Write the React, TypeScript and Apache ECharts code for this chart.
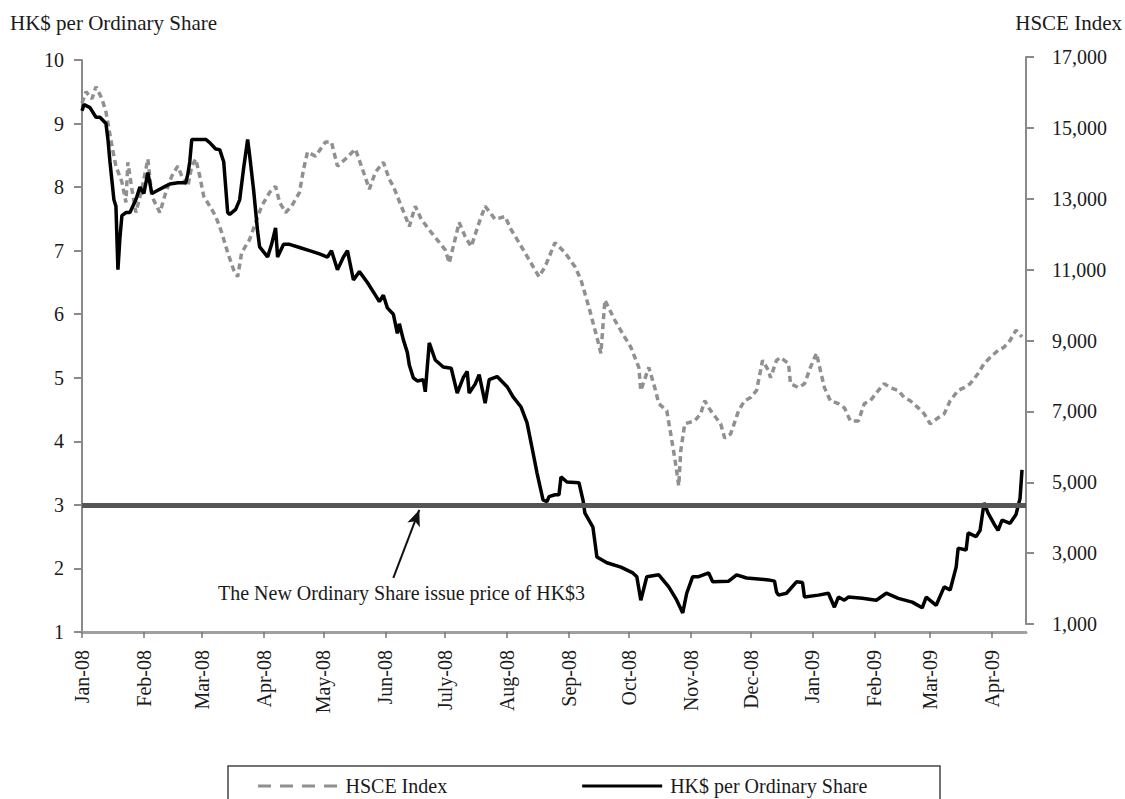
import React, { useEffect, useRef } from "react";
import * as echarts from "echarts";

// Month tick labels and their day offsets (days since 1 Jan 2008)
const monthLabels = [
  "Jan-08", "Feb-08", "Mar-08", "Apr-08", "May-08", "Jun-08", "July-08", "Aug-08",
  "Sep-08", "Oct-08", "Nov-08", "Dec-08", "Jan-09", "Feb-09", "Mar-09", "Apr-09",
];
const monthStartDays = [0, 31, 60, 91, 121, 152, 182, 213, 244, 274, 305, 335, 366, 397, 425, 456];
const totalDays = 474;

// HK$ per Ordinary Share: [day since 1 Jan 2008, price]
const sharePrice: [number, number][] = [
  [0, 9.2], [1, 9.3], [4, 9.25], [7, 9.1], [9, 9.1], [12, 9.0], [13, 8.75], [14, 8.4], [15, 8.1],
  [16, 7.8], [17, 7.7], [18, 6.7], [19, 7.2], [20, 7.55], [22, 7.6], [24, 7.6], [27, 7.8], [29, 8.0],
  [31, 7.9], [33, 8.23], [35, 7.9], [38, 7.95], [41, 8.0], [44, 8.05], [48, 8.07], [52, 8.07],
  [53, 8.2], [54, 8.4], [55, 8.75], [62, 8.75], [64, 8.7], [67, 8.6], [69, 8.59], [71, 8.4],
  [73, 7.6], [74, 7.57], [77, 7.65], [79, 7.8], [81, 8.3], [83, 8.75], [84, 8.5], [86, 7.95],
  [88, 7.3], [89, 7.06], [91, 6.98], [93, 6.9], [95, 7.1], [97, 7.36], [98, 6.9], [101, 7.1],
  [104, 7.1], [109, 7.05], [114, 7.0], [119, 6.95], [123, 6.9], [125, 7.0], [128, 6.7], [131, 6.9],
  [133, 7.0], [136, 6.54], [139, 6.67], [143, 6.5], [147, 6.3], [149, 6.2], [151, 6.3], [153, 6.1],
  [156, 6.0], [158, 5.7], [159, 5.85], [161, 5.6], [163, 5.4], [164, 5.2], [166, 5.0], [168, 4.95],
  [171, 4.97], [172, 4.78], [174, 5.55], [177, 5.28], [181, 5.17], [185, 5.15], [188, 4.76],
  [191, 5.0], [193, 5.1], [194, 4.76], [197, 4.9], [199, 5.05], [202, 4.6], [204, 4.97], [208, 5.02],
  [213, 4.86], [216, 4.7], [220, 4.54], [223, 4.29], [226, 3.82], [228, 3.5], [231, 3.08],
  [233, 3.05], [234, 3.13], [237, 3.16], [239, 3.16], [240, 3.44], [243, 3.36], [249, 3.35],
  [251, 3.08], [252, 2.87], [256, 2.65], [258, 2.18], [263, 2.09], [270, 2.02], [276, 1.93],
  [278, 1.87], [280, 1.5], [283, 1.87], [289, 1.9], [294, 1.71], [298, 1.5], [301, 1.3], [303, 1.61],
  [306, 1.87], [309, 1.87], [314, 1.93], [316, 1.79], [324, 1.8], [328, 1.9], [333, 1.85],
  [344, 1.82], [347, 1.8], [348, 1.63], [349, 1.58], [353, 1.61], [358, 1.79], [361, 1.78],
  [362, 1.55], [369, 1.58], [374, 1.61], [377, 1.39], [379, 1.55], [382, 1.5], [384, 1.55],
  [391, 1.53], [398, 1.5], [403, 1.61], [409, 1.53], [416, 1.47], [421, 1.38], [423, 1.55],
  [428, 1.42], [432, 1.71], [435, 1.66], [438, 2.02], [439, 2.32], [443, 2.29], [444, 2.56],
  [448, 2.5], [450, 2.6], [452, 3.03], [454, 2.87], [457, 2.7], [459, 2.6], [461, 2.76],
  [465, 2.71], [468, 2.85], [470, 3.1], [471, 3.55],
];

// HSCE Index: [day since 1 Jan 2008, index level]
const hsceIndex: [number, number][] = [
  [0, 15700], [2, 16020], [5, 15820], [7, 16160], [10, 15820], [12, 15450], [15, 14490], [17, 13920],
  [20, 13470], [22, 12900], [23, 14030], [25, 13270], [27, 12610], [30, 13270], [33, 14120],
  [35, 13070], [39, 12610], [42, 13180], [45, 13640], [48, 13920], [50, 13640], [53, 13350],
  [55, 13920], [57, 14120], [59, 13640], [61, 13070], [65, 12700], [67, 12500], [70, 12050],
  [73, 11480], [76, 10990], [78, 10800], [80, 11480], [84, 11850], [87, 12330], [90, 12790],
  [94, 13180], [97, 13350], [99, 12900], [102, 12610], [105, 12790], [109, 13180], [111, 13830],
  [113, 14320], [117, 14200], [122, 14600], [125, 14600], [128, 13920], [132, 14120], [137, 14400],
  [140, 13920], [144, 13270], [147, 13750], [151, 14030], [154, 13550], [156, 13350], [160, 12790],
  [164, 12220], [167, 12790], [170, 12420], [175, 12050], [182, 11560], [184, 11190], [189, 12330],
  [192, 11930], [195, 11650], [199, 12330], [202, 12790], [207, 12420], [212, 12500], [215, 12130],
  [219, 11760], [224, 11280], [229, 10800], [232, 11080], [237, 11760], [242, 11480], [247, 11080],
  [250, 10710], [254, 9940], [258, 9090], [260, 8640], [262, 10140], [267, 9570], [272, 9090],
  [275, 8810], [279, 8240], [280, 7590], [284, 8240], [287, 7670], [289, 7220], [293, 7020],
  [295, 6360], [297, 5680], [299, 4900], [300, 5880], [302, 6650], [307, 6730], [310, 6930],
  [312, 7300], [315, 7020], [320, 6650], [322, 6250], [325, 6360], [329, 7020], [332, 7300],
  [335, 7390], [338, 7590], [341, 8440], [344, 8150], [345, 7950], [348, 8440], [350, 8520],
  [354, 8350], [355, 7780], [359, 7670], [362, 7780], [365, 8240], [368, 8640], [370, 8150],
  [372, 7670], [375, 7300], [379, 7220], [382, 7100], [385, 6730], [389, 6730], [392, 7220],
  [395, 7300], [399, 7590], [402, 7780], [405, 7670], [409, 7590], [412, 7390], [415, 7300],
  [419, 7100], [422, 6930], [425, 6650], [429, 6820], [432, 6930], [435, 7300], [439, 7590],
  [442, 7670], [445, 7780], [449, 8070], [452, 8350], [455, 8520], [459, 8720], [462, 8810],
  [465, 9000], [468, 9290], [471, 9100],
];

const issuePrice = 3;
const arrowFrom: [number, number] = [156, 1.85];
const arrowTo: [number, number] = [169, 2.92];
const annotationText = "The New Ordinary Share issue price of HK$3";

const FONT = '"Liberation Serif", "Times New Roman", serif';
const TEXT = "#1a1a1a";

export default function App() {
  const ref = useRef<HTMLDivElement>(null);

  useEffect(() => {
    document.body.style.margin = "0";
    if (!ref.current) return;
    const chart = echarts.init(ref.current, undefined, { renderer: "svg" });
    const days = Array.from({ length: totalDays }, (_, i) => String(i));
    const monthSet = new Set(monthStartDays);
    const isMonth = (index: number) => monthSet.has(index);

    const dashedIcon = "path://M0,0h13v3h-13z M22,0h13v3h-13z M44,0h13v3h-13z M66,0h13v3h-13z";
    const solidIcon = "path://M0,0h80v3h-80z";

    chart.setOption({
      animation: false,
      backgroundColor: "#ffffff",
      grid: [
        { left: 82, right: 99, top: 60, bottom: 167 },
        { left: 82, right: 99, top: 57, bottom: 175 },
      ],
      xAxis: [
        {
          type: "category",
          gridIndex: 0,
          data: days,
          boundaryGap: false,
          axisLine: { lineStyle: { color: "#a0a0a0", width: 3 } },
          axisTick: { interval: isMonth, length: 6, lineStyle: { color: "#777", width: 1.5 } },
          axisLabel: {
            interval: isMonth,
            rotate: 90,
            margin: 18,
            fontSize: 20,
            fontFamily: FONT,
            color: TEXT,
            formatter: (_v: string, index: number) => {
              const k = monthStartDays.indexOf(index);
              return k >= 0 ? monthLabels[k] : "";
            },
          },
          splitLine: { show: false },
        },
        {
          type: "category",
          gridIndex: 1,
          data: days,
          boundaryGap: false,
          show: false,
        },
      ],
      yAxis: [
        {
          type: "value",
          gridIndex: 0,
          min: 1,
          max: 10,
          interval: 1,
          axisLine: { show: true, lineStyle: { color: "#8a8a8a", width: 2 } },
          axisTick: { show: true, length: 8, lineStyle: { color: "#8a8a8a", width: 2 } },
          axisLabel: { margin: 18, fontSize: 20, fontFamily: FONT, color: TEXT },
          splitLine: { show: false },
        },
        {
          type: "value",
          gridIndex: 1,
          position: "right",
          min: 1000,
          max: 17000,
          interval: 2000,
          axisLine: { show: true, lineStyle: { color: "#8a8a8a", width: 2 } },
          axisTick: { show: true, length: 8, lineStyle: { color: "#8a8a8a", width: 2 } },
          axisLabel: {
            margin: 26,
            fontSize: 20,
            fontFamily: FONT,
            color: TEXT,
            formatter: (v: number) => v.toLocaleString("en-US"),
          },
          splitLine: { show: false },
        },
      ],
      legend: {
        left: 258,
        top: 776,
        padding: 0,
        itemWidth: 80,
        itemHeight: 3,
        itemGap: 135,
        textStyle: { fontSize: 20, fontFamily: FONT, color: TEXT, padding: [0, 0, 0, 3] },
        lineStyle: { width: 0 },
        data: [
          { name: "HSCE Index", icon: dashedIcon },
          { name: "HK$ per Ordinary Share", icon: solidIcon },
        ],
      },
      series: [
        {
          name: "HSCE Index",
          type: "line",
          xAxisIndex: 1,
          yAxisIndex: 1,
          data: hsceIndex,
          symbol: "none",
          color: "#909090",
          lineStyle: { color: "#909090", width: 3.5, type: [6, 4] },
          z: 2,
        },
        {
          name: "HK$ per Ordinary Share",
          type: "line",
          xAxisIndex: 0,
          yAxisIndex: 0,
          data: sharePrice,
          symbol: "none",
          color: "#000000",
          lineStyle: { color: "#000000", width: 3.5 },
          z: 3,
          markLine: {
            silent: true,
            symbol: ["none", "none"],
            label: { show: false },
            data: [
              { yAxis: issuePrice, lineStyle: { color: "#555555", width: 5, type: "solid" } },
              [
                { coord: arrowFrom, symbol: "none", lineStyle: { color: "#111111", width: 2, type: "solid" } },
                { coord: arrowTo, symbol: "arrow", symbolSize: [10, 16] },
              ],
            ],
          },
        },
      ],
      graphic: [
        {
          type: "text",
          left: 10,
          top: 12,
          style: { text: "HK$ per Ordinary Share", fontSize: 21, fontFamily: FONT, fill: TEXT },
        },
        {
          type: "text",
          right: 3,
          top: 12,
          style: { text: "HSCE Index", fontSize: 21, fontFamily: FONT, fill: TEXT },
        },
        {
          type: "text",
          left: 218,
          top: 583,
          style: { text: annotationText, fontSize: 20, fontFamily: FONT, fill: TEXT },
        },
        {
          type: "rect",
          shape: { x: 228, y: 766, width: 712, height: 80 },
          style: { fill: "none", stroke: "#444", lineWidth: 1.5 },
          z: -1,
        },
      ],
    });

    return () => chart.dispose();
  }, []);

  return <div ref={ref} style={{ width: 1125, height: 799 }} />;
}
